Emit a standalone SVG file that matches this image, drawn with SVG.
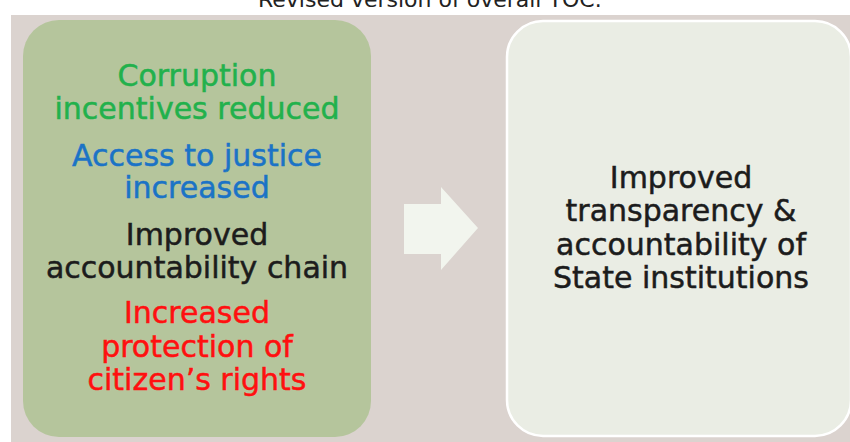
<svg xmlns="http://www.w3.org/2000/svg" width="850" height="442" viewBox="0 0 850 442">
  <defs>
    <style>
      .t { font-family: "DejaVu Sans", Verdana, sans-serif; font-size: 30px; text-anchor: middle; stroke-width: 0.5px; }
      .green { fill: #22b14c; stroke: #22b14c; }
      .blue { fill: #1b73c6; stroke: #1b73c6; }
      .dark { fill: #1c1c1c; stroke: #1c1c1c; }
      .red { fill: #ff1010; stroke: #ff1010; }
      .title { font-family: "DejaVu Sans", Verdana, sans-serif; font-size: 22px; text-anchor: middle; fill: #222; }
    </style>
  </defs>

  <rect x="0" y="0" width="850" height="442" fill="#ffffff"/>
  <text class="title" x="430" y="7">Revised version of overall TOC:</text>

  <!-- panel background -->
  <rect x="11" y="15" width="839" height="427" fill="#dbd3cf"/>

  <g id="outcomes">
    <rect x="23" y="20" width="348" height="417" rx="36" ry="36" fill="#b5c59c"/>
    <text class="t green" x="197" y="86">Corruption</text>
    <text class="t green" x="197" y="119">incentives reduced</text>
    <text class="t blue" x="197" y="166">Access to justice</text>
    <text class="t blue" x="197" y="198">increased</text>
    <text class="t dark" x="197" y="245">Improved</text>
    <text class="t dark" x="197" y="278">accountability chain</text>
    <text class="t red" x="197" y="323">Increased</text>
    <text class="t red" x="197" y="357">protection of</text>
    <text class="t red" x="197" y="390">citizen’s rights</text>
  </g>

  <g id="connectors">
    <polygon points="404,204 441,204 441,187 478,228 441,270 441,254 404,254" fill="#f2f5ee"/>
  </g>

  <g id="impact">
    <rect x="507" y="21" width="344" height="415" rx="36" ry="36" fill="#eaede4" stroke="#ffffff" stroke-width="2.5"/>
    <text class="t dark" x="681" y="188">Improved</text>
    <text class="t dark" x="681" y="221">transparency &amp;</text>
    <text class="t dark" x="681" y="255">accountability of</text>
    <text class="t dark" x="681" y="288">State institutions</text>
  </g>
</svg>
